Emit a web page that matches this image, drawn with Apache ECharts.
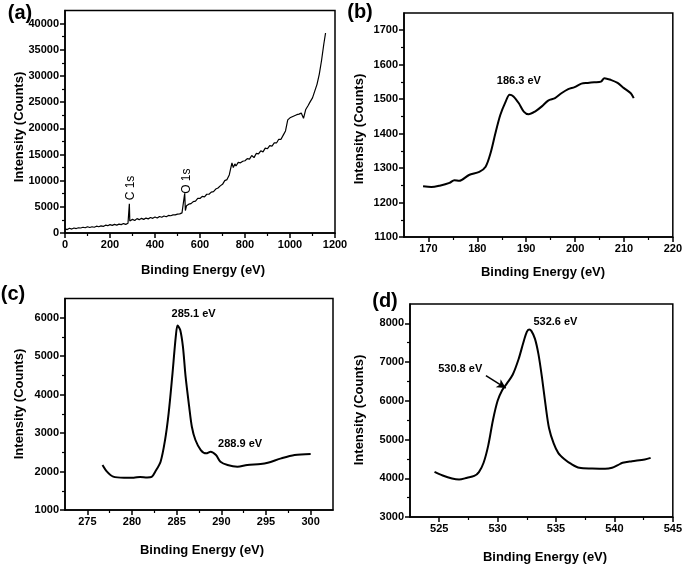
<!DOCTYPE html>
<html>
<head>
<meta charset="utf-8">
<script src="https://cdn.jsdelivr.net/npm/echarts@6/dist/echarts.min.js"></script>
<style>html,body{margin:0;padding:0;background:#fff}#c{width:685px;height:565px}</style>
</head>
<body>
<div id="c"></div>
<script>
// ---------- (a) survey spectrum ----------
const surveyEnergy = [
  0,10,20,30,40,50,60,70,80,90,
  100,110,120,130,140,150,160,170,180,190,
  200,210,220,230,240,250,260,270,280,284,
  286,288,290,300,310,320,330,340,350,360,
  370,380,390,400,410,420,430,440,450,460,
  470,480,490,500,510,520,528,532,535,540,
  550,560,570,580,590,600,610,620,630,640,
  650,660,670,680,690,700,710,720,730,738,
  742,748,755,760,770,780,790,800,810,820,
  830,840,850,860,870,880,890,900,910,920,
  930,940,950,960,970,980,990,1000,1010,1020,
  1030,1040,1050,1060,1070,1080,1090,1100,1110,1120,
  1130,1140,1150,1158];
const surveyCounts = [
  800,650,900,750,950,850,1000,950,1100,1000,
  1200,1050,1200,1100,1300,1200,1350,1250,1500,1400,
  1600,1450,1650,1500,1700,1600,1800,1650,1850,1900,
  5600,2300,2200,2600,2400,2750,2550,2800,2600,2850,
  2700,2950,2800,3050,2850,3150,3000,3250,3100,3350,
  3300,3450,3450,3600,3650,3850,4000,7600,4300,5200,
  5500,5600,6000,6100,6600,6600,7000,6900,7400,7400,
  7800,7900,8400,8600,9000,9300,10000,10200,11100,11400,
  13400,12500,13200,12800,13500,13400,13700,13800,14200,14100,
  14800,14400,15200,15100,15700,15500,16200,16100,16700,16600,
  17200,17200,17900,17900,18700,19500,21600,22000,22200,22400,
  22600,22700,22900,21900,23600,24300,25100,25800,27100,28400,
  30300,32900,36000,38200];

// ---------- (b) ----------
const bEnergy = [168.9,170.6,172.3,174.3,175.3,176.3,178.3,180.4,181.7,182.7,183.7,184.7,185.8,186.6,187.4,188.5,189.5,190.5,191.8,193.2,194.5,195.9,197.2,198.6,199.9,201.3,202.6,203.9,205.3,206.0,207.3,208.7,210.0,211.4,212.0];
const bCounts = [1247,1245,1249,1257,1265,1263,1280,1289,1304,1343,1401,1454,1493,1513,1508,1488,1464,1456,1464,1479,1496,1503,1517,1529,1535,1545,1547,1549,1551,1561,1556,1547,1532,1517,1503];

// ---------- (c) C 1s ----------
const cEnergy = [276.7,277.2,277.9,279.1,280.2,280.9,281.7,282.2,282.6,283.2,283.7,284.1,284.5,284.9,285.1,285.4,285.7,286.0,286.4,286.7,287.1,287.7,288.3,288.8,289.4,289.9,290.7,291.8,292.9,294.4,295.2,296.7,298.2,300.0];
const cCounts = [2170,1997,1867,1840,1840,1860,1845,1860,1997,2256,2820,3513,4466,5506,5800,5680,5246,4466,3686,3166,2820,2560,2473,2516,2430,2256,2170,2127,2170,2196,2230,2343,2430,2456];

// ---------- (d) O 1s ----------
const dEnergy = [524.6,525.3,526.1,526.7,527.4,528.0,528.4,528.8,529.2,529.6,530.0,530.4,530.8,531.3,531.8,532.2,532.5,532.7,532.9,533.2,533.5,533.8,534.1,534.4,534.8,535.2,535.7,536.3,537.0,538.1,539.2,539.8,540.3,540.7,541.5,542.6,543.1];
const dCounts = [4166,4071,3993,3967,4015,4060,4160,4400,4850,5500,6000,6280,6450,6680,7080,7500,7780,7840,7800,7600,7200,6600,5900,5300,4900,4650,4500,4370,4270,4252,4244,4270,4340,4400,4440,4485,4528];

// ---------- tick values ----------
const aXTicks = [0,200,400,600,800,1000,1200];
const aXMinor = [100,300,500,700,900,1100];
const aYTicks = [0,5000,10000,15000,20000,25000,30000,35000,40000];
const aYMinor = [2500,7500,12500,17500,22500,27500,32500,37500];
const bXTicks = [170,180,190,200,210,220];
const bXMinor = [175,185,195,205,215];
const bYTicks = [1100,1200,1300,1400,1500,1600,1700];
const bYMinor = [1150,1250,1350,1450,1550,1650];
const cXTicks = [275,280,285,290,295,300];
const cXMinor = [277.5,282.5,287.5,292.5,297.5];
const cYTicks = [1000,2000,3000,4000,5000,6000];
const cYMinor = [1500,2500,3500,4500,5500];
const dXTicks = [525,530,535,540,545];
const dXMinor = [527.5,532.5,537.5,542.5];
const dYTicks = [3000,4000,5000,6000,7000,8000];
const dYMinor = [3500,4500,5500,6500,7500];

// ---------- annotation texts ----------
const panelLabels = ['(a)','(b)','(c)','(d)'];
const xTitle = 'Binding Energy (eV)';
const yTitle = 'Intensity (Counts)';
const aPeakNames = ['C 1s','O 1s'];
const bPeakText = ['186.3 eV'];
const cPeakTexts = ['285.1 eV','288.9 eV'];
const dPeakTexts = ['532.6 eV','530.8 eV'];

const FONT = 'Liberation Sans, Arial, sans-serif';
const zip = (xs, ys) => xs.map((x, i) => [x, ys[i]]);

const grids = [
  {left: 65, top: 10.5, width: 270, height: 222.5},
  {left: 404, top: 13, width: 272, height: 224},
  {left: 65, top: 298.5, width: 268, height: 211.5},
  {left: 410, top: 304, width: 264, height: 213}
];
const ranges = [
  {x: [0, 1200], y: [0, 42500], xt: aXTicks, xm: aXMinor, yt: aYTicks, ym: aYMinor},
  {x: [165, 220], y: [1100, 1750], xt: bXTicks, xm: bXMinor, yt: bYTicks, ym: bYMinor},
  {x: [272.5, 302.5], y: [1000, 6500], xt: cXTicks, xm: cXMinor, yt: cYTicks, ym: cYMinor},
  {x: [522.5, 545], y: [3000, 8500], xt: dXTicks, xm: dXMinor, yt: dYTicks, ym: dYMinor}
];

const xAxis = [], yAxis = [];
ranges.forEach((r, gi) => {
  const lab = {fontWeight: 'bold', fontSize: 11, color: '#000', fontFamily: FONT, margin: 6,
    formatter: v => String(v)};
  xAxis.push({type: 'value', gridIndex: gi, min: r.x[0], max: r.x[1], position: 'bottom',
    splitLine: {show: false},
    axisLine: {onZero: false, lineStyle: {color: '#000', width: 1.5}},
    axisTick: {inside: false, length: 5, customValues: r.xt, lineStyle: {color: '#000', width: 1.5}},
    axisLabel: Object.assign({customValues: r.xt}, lab)});
  xAxis.push({type: 'value', gridIndex: gi, min: r.x[0], max: r.x[1], position: 'bottom',
    splitLine: {show: false}, axisLine: {show: false, onZero: false},
    axisTick: {inside: false, length: 3, customValues: r.xm, lineStyle: {color: '#000', width: 1.2}},
    axisLabel: {show: false}});
  yAxis.push({type: 'value', gridIndex: gi, min: r.y[0], max: r.y[1], position: 'left',
    splitLine: {show: false},
    axisLine: {onZero: false, lineStyle: {color: '#000', width: 1.5}},
    axisTick: {inside: false, length: 5, customValues: r.yt, lineStyle: {color: '#000', width: 1.5}},
    axisLabel: Object.assign({customValues: r.yt}, lab)});
  yAxis.push({type: 'value', gridIndex: gi, min: r.y[0], max: r.y[1], position: 'left',
    splitLine: {show: false}, axisLine: {show: false, onZero: false},
    axisTick: {inside: false, length: 3, customValues: r.ym, lineStyle: {color: '#000', width: 1.2}},
    axisLabel: {show: false}});
});

const boldLabel = {show: true, position: [0, 0], align: 'center', verticalAlign: 'middle',
  color: '#000', fontWeight: 'bold', fontSize: 11, fontFamily: FONT, formatter: p => p.name};

const series = [
  {type: 'line', xAxisIndex: 0, yAxisIndex: 0, data: zip(surveyEnergy, surveyCounts),
   showSymbol: false, lineStyle: {color: '#000', width: 1.2}, silent: true,
   markPoint: {symbol: 'circle', symbolSize: 0, silent: true,
     label: {show: true, position: [0, 0], align: 'center', verticalAlign: 'middle', rotate: 90,
       color: '#000', fontSize: 12, fontFamily: FONT, formatter: p => p.name},
     data: [{name: aPeakNames[0], coord: [292, 8600]}, {name: aPeakNames[1], coord: [540, 9900]}]}},
  {type: 'line', xAxisIndex: 2, yAxisIndex: 2, data: zip(bEnergy, bCounts), smooth: 0.3,
   showSymbol: false, lineStyle: {color: '#000', width: 2}, silent: true,
   markPoint: {symbol: 'circle', symbolSize: 0, silent: true, label: boldLabel,
     data: [{name: bPeakText[0], coord: [188.5, 1553]}]}},
  {type: 'line', xAxisIndex: 4, yAxisIndex: 4, data: zip(cEnergy, cCounts), smooth: 0.3,
   showSymbol: false, lineStyle: {color: '#000', width: 2}, silent: true,
   markPoint: {symbol: 'circle', symbolSize: 0, silent: true, label: boldLabel,
     data: [{name: cPeakTexts[0], coord: [286.9, 6100]}, {name: cPeakTexts[1], coord: [292.1, 2716]}]}},
  {type: 'line', xAxisIndex: 6, yAxisIndex: 6, data: zip(dEnergy, dCounts), smooth: 0.3,
   showSymbol: false, lineStyle: {color: '#000', width: 2}, silent: true,
   markPoint: {symbol: 'circle', symbolSize: 0, silent: true, label: boldLabel,
     data: [{name: dPeakTexts[0], coord: [534.95, 8026]}, {name: dPeakTexts[1], coord: [526.8, 6830]}]},
   markLine: {symbol: ['none', 'arrow'], symbolSize: [7, 9], silent: true, animation: false,
     label: {show: false}, emphasis: {disabled: true},
     lineStyle: {color: '#000', width: 1.5, type: 'solid'},
     data: [[{coord: [529.0, 6650]}, {coord: [530.7, 6330]}]]}}
];

const txt = (text, x, y, size, rot) => ({type: 'text', x: x, y: y, rotation: rot || 0, silent: true,
  style: {text: text, fill: '#000', font: 'bold ' + size + 'px ' + FONT, align: 'center', verticalAlign: 'middle'}});

const graphic = [
  txt(panelLabels[0], 20, 13, 20), txt(panelLabels[1], 360, 12, 20),
  txt(panelLabels[2], 13, 294, 20), txt(panelLabels[3], 385, 301, 20),
  txt(yTitle, 19, 127, 13, Math.PI / 2), txt(yTitle, 359, 129, 13, Math.PI / 2),
  txt(yTitle, 19, 404, 13, Math.PI / 2), txt(yTitle, 359, 410, 13, Math.PI / 2),
  txt(xTitle, 203, 270, 13), txt(xTitle, 543, 272, 13),
  txt(xTitle, 202, 550, 13), txt(xTitle, 545, 557, 13)
];

const chart = echarts.init(document.getElementById('c'), null, {renderer: 'canvas'});
chart.setOption({
  animation: false,
  backgroundColor: '#fff',
  grid: grids.map(g => Object.assign({show: true, borderColor: '#000', borderWidth: 1.5, backgroundColor: 'transparent', containLabel: false}, g)),
  xAxis: xAxis,
  yAxis: yAxis,
  series: series,
  graphic: graphic
});
</script>
</body>
</html>
